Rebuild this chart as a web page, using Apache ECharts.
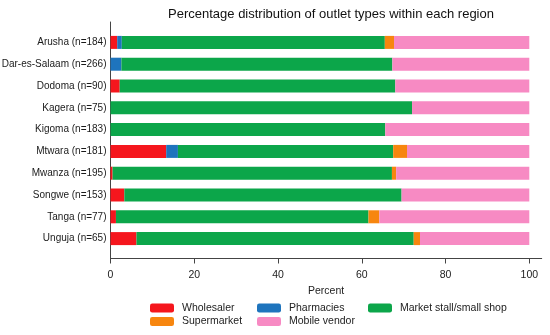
<!DOCTYPE html>
<html>
<head>
<meta charset="utf-8">
<script src="https://cdn.jsdelivr.net/npm/echarts@6/dist/echarts.min.js"></script>
<style>html,body{margin:0;padding:0;background:#fff;}#c{width:550px;height:335px;}</style>
</head>
<body>
<div id="c"></div>
<script>
var regions = ['Arusha (n=184)','Dar-es-Salaam (n=266)','Dodoma (n=90)','Kagera (n=75)','Kigoma (n=183)','Mtwara (n=181)','Mwanza (n=195)','Songwe (n=153)','Tanga (n=77)','Unguja (n=65)'];
var wholesaler   = [1.6, 0.0, 2.2, 0.0, 0.0, 13.3, 0.5, 3.3, 1.3, 6.2];
var pharmacies   = [1.1, 2.6, 0.0, 0.0, 0.0, 2.8, 0.0, 0.0, 0.0, 0.0];
var marketStall  = [62.8, 64.7, 65.8, 72.0, 65.6, 51.4, 66.7, 66.2, 60.3, 66.2];
var supermarket  = [2.2, 0.0, 0.0, 0.0, 0.0, 3.3, 1.0, 0.0, 2.6, 1.5];
var mobileVendor = [32.3, 32.7, 32.0, 28.0, 34.4, 29.2, 31.8, 30.5, 35.8, 26.1];
var xTicks = [0, 20, 40, 60, 80, 100];

var FONT = '"Liberation Sans", Arial, sans-serif';
var colors = {
  'Wholesaler': '#f5161d',
  'Pharmacies': '#1e74bd',
  'Market stall/small shop': '#0ca64a',
  'Supermarket': '#f7860f',
  'Mobile vendor': '#f78ac3'
};
var XMAX = 102.96;
function mk(name, data) {
  return {
    name: name, type: 'bar', stack: 'all', data: data,
    xAxisIndex: 1, yAxisIndex: 1, barWidth: 13,
    itemStyle: { color: colors[name] },
    emphasis: { disabled: true }
  };
}
var chart = echarts.init(document.getElementById('c'), null, { renderer: 'canvas' });
var legendText = { fontFamily: FONT, fontSize: 10.5, color: '#222', padding: [0, 0, 0, 3] };
function lg(left, data) {
  return { orient: 'vertical', left: left, top: 302.5, padding: 0, itemWidth: 24, itemHeight: 9,
    itemGap: 2.5, data: data, textStyle: legendText, selectedMode: false };
}
chart.setOption({
  animation: false,
  textStyle: { fontFamily: FONT },
  title: {
    text: 'Percentage distribution of outlet types within each region',
    left: 326, top: 3, textAlign: 'center',
    textStyle: { fontFamily: FONT, fontSize: 13, fontWeight: 'normal', color: '#111' }
  },
  legend: [
    lg(150, ['Wholesaler', 'Supermarket']),
    lg(257, ['Pharmacies', 'Mobile vendor']),
    lg(368, ['Market stall/small shop'])
  ],
  grid: [
    { left: 110.5, right: 8.3, top: 22, height: 236.5, outerBoundsMode: 'none', containLabel: false },
    { left: 110.5, right: 8.3, top: 31.5, height: 218, outerBoundsMode: 'none', containLabel: false }
  ],
  xAxis: [
    { type: 'value', gridIndex: 0, min: 0, max: XMAX,
      name: 'Percent', nameLocation: 'middle', nameGap: 22,
      nameTextStyle: { fontFamily: FONT, fontSize: 10.5, color: '#222' },
      axisLine: { show: true, lineStyle: { color: '#444', width: 1 } },
      axisTick: { show: true, length: 5, customValues: xTicks, lineStyle: { color: '#444' } },
      axisLabel: { customValues: xTicks, fontFamily: FONT, fontSize: 10.5, color: '#222', margin: 11 },
      splitLine: { show: false } },
    { type: 'value', gridIndex: 1, min: 0, max: XMAX, show: false }
  ],
  yAxis: [
    { type: 'value', gridIndex: 0, min: 0, max: 1,
      axisLine: { show: true, lineStyle: { color: '#444', width: 1 } },
      axisTick: { show: false }, axisLabel: { show: false }, splitLine: { show: false } },
    { type: 'category', gridIndex: 1, data: regions, inverse: true,
      axisLine: { show: false }, axisTick: { show: false },
      axisLabel: { fontFamily: FONT, fontSize: 10, color: '#1a1a1a', margin: 4 } }
  ],
  series: [
    mk('Wholesaler', wholesaler),
    mk('Pharmacies', pharmacies),
    mk('Market stall/small shop', marketStall),
    mk('Supermarket', supermarket),
    mk('Mobile vendor', mobileVendor)
  ]
});
</script>
</body>
</html>
